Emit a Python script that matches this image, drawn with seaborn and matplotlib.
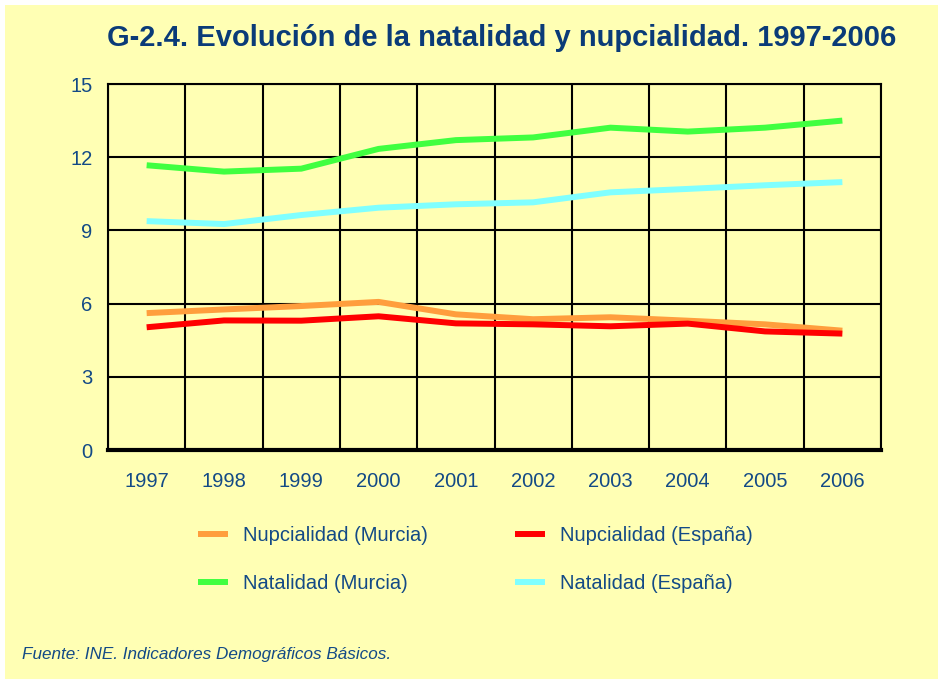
import pandas as pd
import matplotlib.pyplot as plt
import seaborn as sns
from matplotlib.patches import Rectangle

# Datos (tasas por 1000 habitantes)
years = ['1997', '1998', '1999', '2000', '2001', '2002', '2003', '2004', '2005', '2006']
nupcialidad_murcia = [5.61, 5.76, 5.90, 6.07, 5.56, 5.36, 5.44, 5.30, 5.15, 4.89]
nupcialidad_espana = [5.03, 5.31, 5.30, 5.48, 5.19, 5.15, 5.07, 5.18, 4.86, 4.77]
natalidad_murcia = [11.67, 11.41, 11.53, 12.34, 12.70, 12.81, 13.21, 13.05, 13.21, 13.50]
natalidad_espana = [9.38, 9.26, 9.63, 9.93, 10.07, 10.15, 10.56, 10.70, 10.85, 10.98]
y_ticks = [0, 3, 6, 9, 12, 15]

series = {
    'Nupcialidad (Murcia)': nupcialidad_murcia,
    'Nupcialidad (España)': nupcialidad_espana,
    'Natalidad (Murcia)': natalidad_murcia,
    'Natalidad (España)': natalidad_espana,
}
colors = {
    'Nupcialidad (Murcia)': '#FF9E3D',
    'Nupcialidad (España)': '#FF0000',
    'Natalidad (Murcia)': '#40FF40',
    'Natalidad (España)': '#80FFFF',
}

rows = []
for name, values in series.items():
    for i, v in enumerate(values):
        rows.append({'idx': i, 'valor': v, 'serie': name})
df = pd.DataFrame(rows)

sns.set_style('white')
plt.rcParams['font.family'] = ['Liberation Sans', 'DejaVu Sans']
plt.rcParams['lines.solid_capstyle'] = 'butt'

BG = '#FFFFB4'
TEXT = '#134A86'
TITLE = '#0A3B78'

fig = plt.figure(figsize=(9.38, 6.79), dpi=100, facecolor='white')
fig.patches.append(Rectangle((5 / 938, 0), 1, 1 - 5 / 679, transform=fig.transFigure,
                             facecolor=BG, edgecolor='none', zorder=-10))

ax = fig.add_axes([108 / 938, 1 - 450 / 679, (881 - 108) / 938, (450 - 84) / 679])
ax.set_facecolor(BG)

sns.lineplot(data=df, x='idx', y='valor', hue='serie', palette=colors,
             hue_order=list(series.keys()), linewidth=4.3, ax=ax, legend=False)

ax.set_xlim(-0.5, len(years) - 0.5)
ax.set_ylim(0, 15)
ax.set_yticks(y_ticks)
ax.set_yticklabels([str(t) for t in y_ticks])
ax.set_xticks(range(len(years)))
ax.set_xticklabels(years)
ax.set_xticks([i - 0.5 for i in range(len(years) + 1)], minor=True)
ax.set_xlabel('')
ax.set_ylabel('')

ax.grid(False)
ax.grid(axis='y', which='major', color='black', linewidth=1.5, zorder=0)
ax.grid(axis='x', which='minor', color='black', linewidth=1.5, zorder=0)
ax.set_axisbelow(True)
for side in ['left', 'right', 'top']:
    ax.spines[side].set_color('black')
    ax.spines[side].set_linewidth(1.5)
ax.spines['bottom'].set_color('black')
ax.spines['bottom'].set_linewidth(3)

ax.tick_params(axis='both', which='both', length=0, labelsize=14.5, labelcolor=TEXT)
ax.tick_params(axis='y', pad=11)
ax.tick_params(axis='x', pad=16)

fig.text(0.535, 0.944, 'G-2.4. Evolución de la natalidad y nupcialidad. 1997-2006',
         ha='center', va='center', fontsize=21, fontweight='bold', color=TITLE)

handles = ax.get_lines()
names = list(series.keys())
order = [0, 2, 1, 3]
leg = fig.legend([handles[i] for i in order], [names[i] for i in order],
                 loc='center', bbox_to_anchor=(0.507, 0.176), ncol=2,
                 frameon=False, fontsize=14.5, handlelength=1.5, handletextpad=0.75,
                 columnspacing=4.3, labelspacing=1.4)
for t in leg.get_texts():
    t.set_color(TEXT)

fig.text(22 / 938, 1 - 654 / 679, 'Fuente: INE. Indicadores Demográficos Básicos.',
         ha='left', va='center', fontsize=12.3, style='italic', color=TEXT)

fig.savefig('out.png', dpi=100, facecolor=fig.get_facecolor())
plt.close(fig)
